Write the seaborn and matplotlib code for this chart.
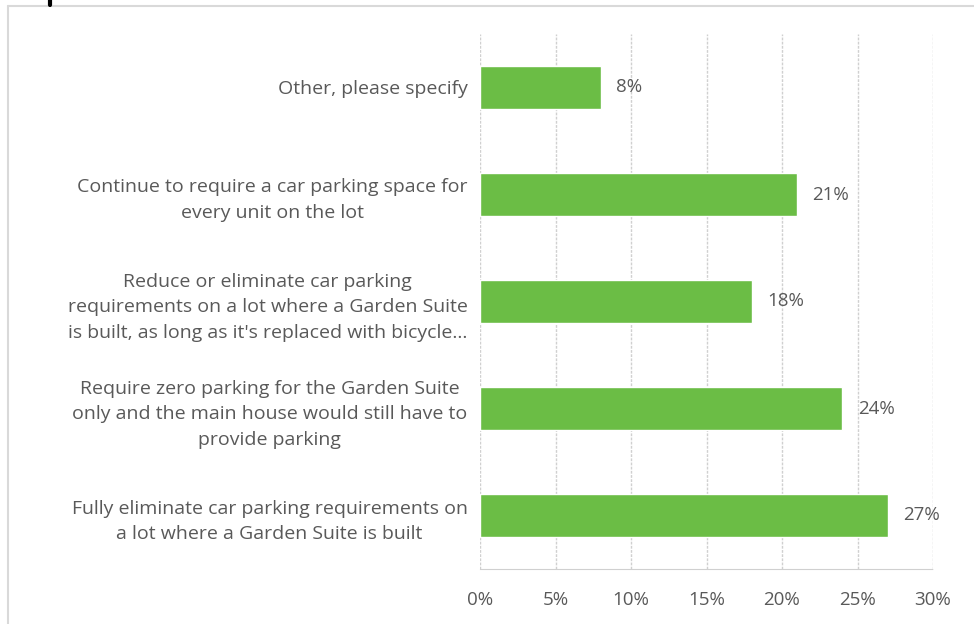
import matplotlib
matplotlib.use("Agg")
import matplotlib.pyplot as plt
import matplotlib.lines as mlines
import seaborn as sns
import pandas as pd

options = [
    "Other, please specify",
    "Continue to require a car parking space for\nevery unit on the lot",
    "Reduce or eliminate car parking\nrequirements on a lot where a Garden Suite\nis built, as long as it's replaced with bicycle...",
    "Require zero parking for the Garden Suite\nonly and the main house would still have to\nprovide parking",
    "Fully eliminate car parking requirements on\na lot where a Garden Suite is built",
]
shares = [8, 21, 18, 24, 27]
ticks = [0, 5, 10, 15, 20, 25, 30]

df = pd.DataFrame({"option": options, "share": shares})

sns.set_style("white")
plt.rcParams["font.family"] = ["Open Sans", "DejaVu Sans"]

fig = plt.figure(figsize=(9.74, 6.24), dpi=100)
ax = fig.add_axes([480 / 974, 1 - 569 / 624, 453 / 974, (569 - 34) / 624])

sns.barplot(data=df, x="share", y="option", color="#6BBD45", saturation=1,
            width=0.4, ax=ax, orient="h")

ax.set_xlim(0, 30)
ax.set_ylim(4.5, -0.5)
ax.set_xticks(ticks)
ax.set_xticklabels([f"{t}%" for t in ticks], fontsize=13.5, color="#595959")
ax.set_xlabel("")
ax.set_ylabel("")
ax.tick_params(axis="y", length=0, pad=9, labelsize=14, labelcolor="#595959")
for lab in ax.get_yticklabels():
    lab.set_multialignment("center")
    lab.set_linespacing(1.55)
ax.tick_params(axis="x", length=8, width=1, color="#D0D0D0", pad=8)

ax.grid(axis="x", color="#D0D0D0", linestyle=(0, (2, 1)), linewidth=1)
ax.set_axisbelow(True)
for side in ["top", "right", "left"]:
    ax.spines[side].set_visible(False)
ax.spines["bottom"].set_color("#D0D0D0")
ax.spines["bottom"].set_linestyle((0, (2, 1)))

for i, v in enumerate(shares):
    ax.annotate(f"{v}%", (v, i), xytext=(11, 0), textcoords="offset points",
                va="center", ha="left", fontsize=13.5, color="#595959")

# outer frame (top and left edges only visible)
fig.add_artist(mlines.Line2D([8 / 974, 1], [1 - 6 / 624, 1 - 6 / 624],
                             transform=fig.transFigure, color="#D9D9D9", lw=1.5))
fig.add_artist(mlines.Line2D([8 / 974, 8 / 974], [0, 1 - 6 / 624],
                             transform=fig.transFigure, color="#D9D9D9", lw=1.5))
fig.add_artist(mlines.Line2D([50 / 974, 50 / 974], [1 - 5 / 624, 1],
                             transform=fig.transFigure, color="black", lw=3))

fig.savefig("out.png", dpi=100, facecolor="white")
